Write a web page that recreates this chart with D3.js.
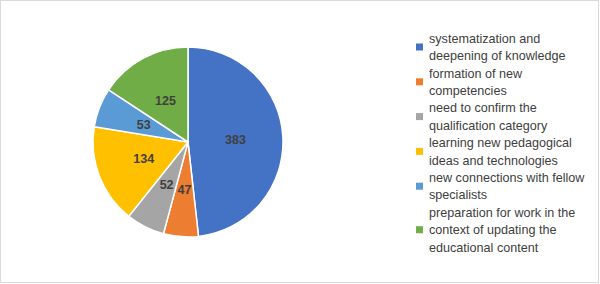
<!DOCTYPE html>
<html>
<head>
<meta charset="utf-8">
<script src="https://cdn.jsdelivr.net/npm/d3@7"></script>
<style>
  body { margin: 0; background: #fff; }
  svg { display: block; font-family: "Liberation Sans", Arial, sans-serif; }
</style>
</head>
<body>
<div id="chart"></div>
<script>
// Data
var categories = [
  ["systematization and", "deepening of knowledge"],
  ["formation of new", "competencies"],
  ["need to confirm the", "qualification category"],
  ["learning new pedagogical", "ideas and technologies"],
  ["new connections with fellow", "specialists"],
  ["preparation for work in the", "context of updating the", "educational content"]
];
var values = [383, 47, 52, 134, 53, 125];
var colors = ["#4472c4", "#ed7d31", "#a5a5a5", "#ffc000", "#5b9bd5", "#70ad47"];

var svgWidth = 600;
var svgHeight = 284;

var svg = d3.select("#chart")
  .append("svg")
  .attr("width", svgWidth)
  .attr("height", svgHeight);

// outer chart border
svg.append("rect")
  .attr("x", 0.5)
  .attr("y", 0.5)
  .attr("width", svgWidth - 2)
  .attr("height", svgHeight - 2)
  .attr("fill", "#fff")
  .attr("stroke", "#d9d9d9");

// Pie
//=================================
var cx = 188, cy = 142, radius = 95;

var pie = d3.pie().sort(null).value(d => d);
var arc = d3.arc().innerRadius(0).outerRadius(radius);

var pieGroup = svg.append("g")
  .attr("transform", `translate(${cx}, ${cy})`);

var slices = pieGroup.selectAll(".slice")
  .data(pie(values))
  .enter()
  .append("g");

slices.append("path")
  .attr("d", arc)
  .attr("fill", (d, i) => colors[i])
  .attr("stroke", "#fff")
  .attr("stroke-width", 1.5);

slices.append("text")
  .attr("transform", d => `translate(${arc.centroid(d)})`)
  .attr("text-anchor", "middle")
  .attr("dy", "0.35em")
  .attr("font-size", "12.5px")
  .attr("font-weight", "bold")
  .attr("fill", "#404040")
  .text(d => d.data);

// Legend
//=================================
var lineH = 17.4;
var legendX = 416, textX = 429;
var y0 = 38.3;

var legend = svg.append("g");
var lineIndex = 0;
categories.forEach(function(lines, i) {
  var first = y0 + lineIndex * lineH;
  var mid = first + (lines.length - 1) * lineH / 2;
  legend.append("rect")
    .attr("x", legendX)
    .attr("y", mid - 3.5)
    .attr("width", 7)
    .attr("height", 7)
    .attr("fill", colors[i]);
  lines.forEach(function(t, j) {
    legend.append("text")
      .attr("x", textX)
      .attr("y", first + j * lineH)
      .attr("dy", "0.35em")
      .attr("font-size", "12.6px")
      .attr("fill", "#404040")
      .text(t);
  });
  lineIndex += lines.length;
});
</script>
</body>
</html>
